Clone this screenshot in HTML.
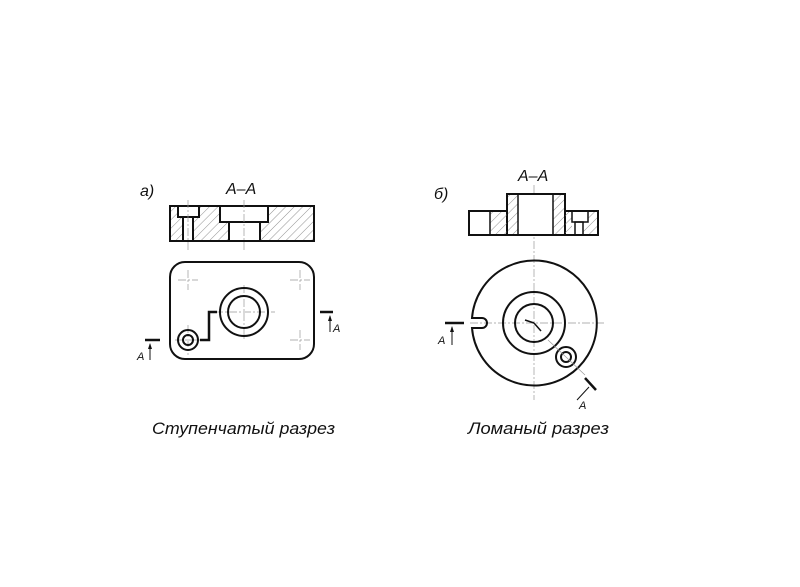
<!DOCTYPE html>
<html><head><meta charset="utf-8"><style>body{margin:0;background:#fff}svg{display:block}</style></head><body>
<svg width="800" height="587" viewBox="0 0 800 587" xmlns="http://www.w3.org/2000/svg">
<defs>
<pattern id="h" width="6" height="6" patternUnits="userSpaceOnUse" patternTransform="rotate(45)">
<line x1="0" y1="0" x2="0" y2="6" stroke="#777" stroke-width="0.8"/>
</pattern>
</defs>
<g font-family="Liberation Sans, sans-serif" font-style="italic" fill="#111">
<text x="140" y="196" font-size="16">а)</text>
<text x="226" y="194" font-size="16">А–А</text>
<text x="434" y="199" font-size="16">б)</text>
<text x="518" y="181" font-size="16">А–А</text>
<text x="152" y="434" font-size="17" textLength="183" lengthAdjust="spacingAndGlyphs">Ступенчатый разрез</text>
<text x="468" y="434" font-size="17" textLength="141" lengthAdjust="spacingAndGlyphs">Ломаный разрез</text>
<text x="137" y="360" font-size="11">А</text>
<text x="333" y="332" font-size="11">А</text>
<text x="438" y="344" font-size="11">А</text>
<text x="579" y="409" font-size="11">А</text>
</g>
<!-- left section -->
<g stroke="#111" stroke-width="2" fill="none">
<rect x="170" y="206" width="144" height="35" fill="url(#h)"/>
<rect x="178" y="206" width="21" height="11" fill="#fff"/>
<rect x="183" y="217" width="10" height="24" fill="#fff"/>
<rect x="220" y="206" width="48" height="16" fill="#fff"/>
<rect x="229" y="222" width="31" height="19" fill="#fff"/>
</g>
<g stroke="#999" stroke-width="0.7" stroke-dasharray="8 2 2 2">
<line x1="244" y1="200" x2="244" y2="250"/><line x1="188" y1="200" x2="188" y2="250"/>
<line x1="244" y1="285" x2="244" y2="340"/><line x1="215" y1="312" x2="275" y2="312"/>
<line x1="188" y1="325" x2="188" y2="355"/><line x1="175" y1="340" x2="200" y2="340"/>
<line x1="534" y1="185" x2="534" y2="400"/><line x1="470" y1="323" x2="605" y2="323"/>
<line x1="188" y1="270" x2="188" y2="290"/><line x1="178" y1="280" x2="198" y2="280"/>
<line x1="300" y1="270" x2="300" y2="290"/><line x1="290" y1="280" x2="310" y2="280"/>
<line x1="300" y1="330" x2="300" y2="350"/><line x1="290" y1="340" x2="310" y2="340"/>
</g>
<g stroke="#111" stroke-width="2" fill="none">
<rect x="170" y="262" width="144" height="97" rx="15"/>
<circle cx="244" cy="312" r="24"/><circle cx="244" cy="312" r="16"/>
<circle cx="188" cy="340" r="10"/><circle cx="188" cy="340" r="5"/>
<polyline points="200,340 209,340 209,312 217,312" stroke-width="2.5"/>
<line x1="145" y1="340" x2="160" y2="340" stroke-width="2.5"/>
<line x1="320" y1="312" x2="333" y2="312" stroke-width="2.5"/>
<line x1="150" y1="344" x2="150" y2="360" stroke-width="1"/>
<line x1="330" y1="316" x2="330" y2="332" stroke-width="1"/>
</g>
<polygon points="150,343 148,349 152,349" fill="#111"/>
<polygon points="330,315 328,321 332,321" fill="#111"/>
<!-- right section -->
<g stroke="#111" stroke-width="2" fill="none">
<rect x="469" y="211" width="129" height="24" fill="#fff"/>
<rect x="507" y="194" width="58" height="41" fill="#fff"/>
</g>
<g fill="url(#h)" stroke="none">
<rect x="490" y="212" width="17" height="22"/><rect x="508" y="195" width="10" height="39"/>
<rect x="553" y="195" width="11" height="39"/><rect x="565" y="212" width="7" height="22"/>
<rect x="583" y="222" width="14" height="12"/><rect x="588" y="212" width="9" height="10"/>
</g>
<g stroke="#111" stroke-width="1.5" fill="none">
<line x1="490" y1="211" x2="490" y2="235"/><line x1="518" y1="194" x2="518" y2="235"/>
<line x1="553" y1="194" x2="553" y2="235"/>
<rect x="572" y="211" width="16" height="11"/><rect x="575" y="222" width="8" height="13"/>
</g>
<g stroke="#111" stroke-width="2" fill="none">
<path d="M 472 318 A 62.5 62.5 0 1 1 472 328 L 482 328 A 5 5 0 0 0 482 318 Z"/>
<circle cx="534" cy="323" r="31"/><circle cx="534" cy="323" r="19"/>
<circle cx="566" cy="357" r="10"/><circle cx="566" cy="357" r="5"/>
<line x1="525" y1="320" x2="534" y2="323" stroke-width="1.5"/><line x1="534" y1="323" x2="541" y2="331" stroke-width="1.5"/>
<line x1="445" y1="323" x2="464" y2="323" stroke-width="2.5"/>
<line x1="585" y1="378" x2="596" y2="390" stroke-width="2.5"/>
<line x1="452" y1="327" x2="452" y2="345" stroke-width="1"/>
<line x1="589" y1="387" x2="577" y2="400" stroke-width="1"/>
</g>
<polygon points="452,326 450,332 454,332" fill="#111"/>
<line x1="548" y1="340" x2="585" y2="375" stroke="#999" stroke-width="0.7"/>
</svg>
</body></html>
